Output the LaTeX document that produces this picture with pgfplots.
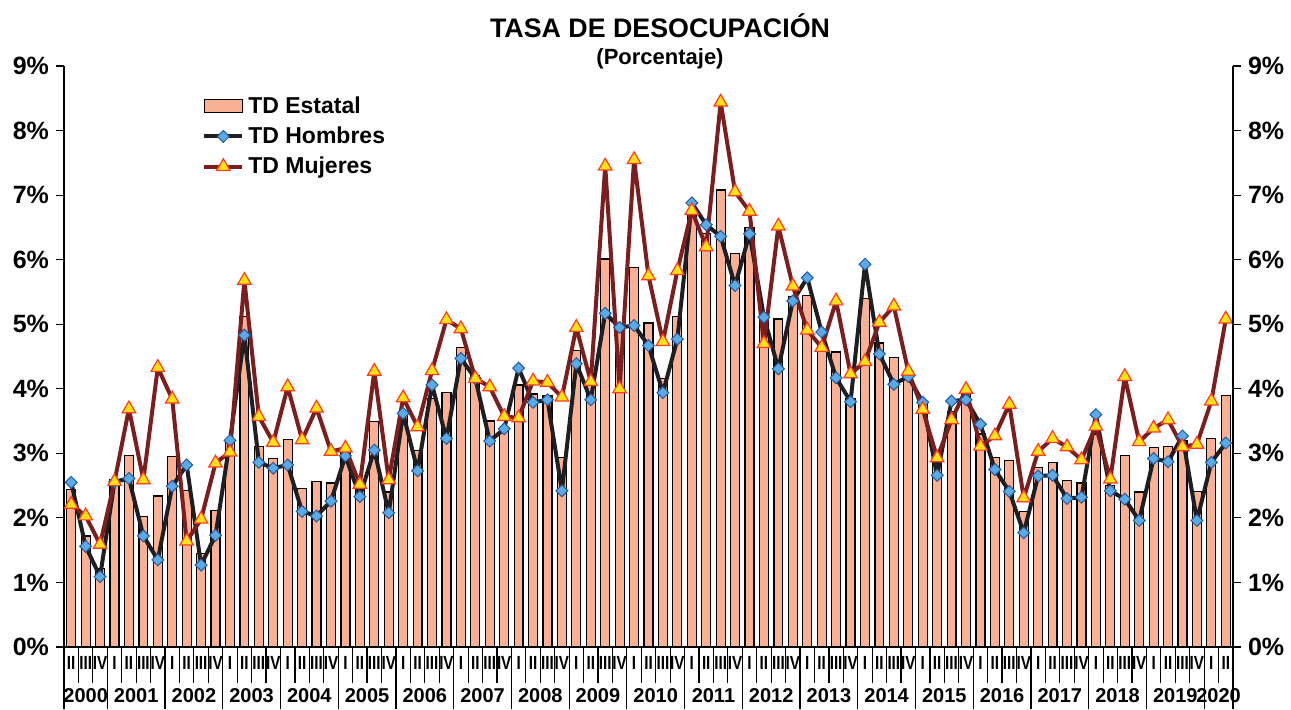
\documentclass[border=0pt]{standalone}
\usepackage{pgfplots}
\pgfplotsset{compat=1.18}
\usepackage{pgfplotstable}
\usepackage{graphicx}
\usepackage{fontspec}
\setmainfont{Liberation Sans}

\definecolor{barfill}{RGB}{250,176,146}
\definecolor{hline}{RGB}{30,30,35}
\definecolor{hmark}{RGB}{90,170,230}
\definecolor{hedge}{RGB}{40,90,160}
\definecolor{mline}{RGB}{125,30,30}
\definecolor{mmark}{RGB}{255,225,20}
\definecolor{medge}{RGB}{255,60,30}

\newcommand\Q[1]{\scalebox{0.8}[1]{#1}}

\pgfplotstableread{
x est hom muj
0 2.44 2.55 2.21
1 1.72 1.56 2.03
2 1.22 1.09 1.59
3 2.59 2.56 2.56
4 2.97 2.61 3.69
5 2.02 1.72 2.59
6 2.34 1.35 4.33
7 2.95 2.49 3.84
8 2.42 2.82 1.64
9 1.45 1.27 1.98
10 2.11 1.73 2.85
11 3.20 3.20 3.02
12 5.12 4.83 5.68
13 3.10 2.86 3.57
14 2.92 2.77 3.17
15 3.21 2.82 4.03
16 2.45 2.10 3.21
17 2.57 2.03 3.70
18 2.54 2.26 3.03
19 3.05 2.96 3.08
20 2.50 2.33 2.52
21 3.49 3.05 4.27
22 2.40 2.08 2.59
23 3.65 3.62 3.86
24 3.05 2.73 3.41
25 3.85 4.06 4.28
26 3.94 3.23 5.07
27 4.64 4.47 4.93
28 4.20 4.16 4.16
29 3.50 3.19 4.03
30 3.38 3.38 3.57
31 4.06 4.32 3.55
32 3.92 3.79 4.12
33 3.90 3.83 4.10
34 2.94 2.42 3.87
35 4.59 4.39 4.95
36 4.10 3.83 4.11
37 6.01 5.17 7.45
38 4.98 4.95 4.00
39 5.88 4.98 7.55
40 5.02 4.67 5.75
41 4.16 3.94 4.73
42 5.12 4.77 5.83
43 6.75 6.88 6.76
44 6.40 6.54 6.20
45 7.08 6.36 8.44
46 6.09 5.60 7.05
47 6.50 6.40 6.75
48 5.10 5.11 4.70
49 5.08 4.31 6.52
50 5.43 5.36 5.59
51 5.45 5.72 4.91
52 4.72 4.88 4.64
53 4.57 4.17 5.36
54 3.85 3.80 4.23
55 5.40 5.93 4.42
56 4.71 4.54 5.03
57 4.49 4.07 5.28
58 4.16 4.19 4.27
59 3.77 3.79 3.68
60 2.85 2.66 2.93
61 3.65 3.81 3.52
62 3.93 3.83 3.99
63 3.30 3.45 3.11
64 2.93 2.75 3.27
65 2.89 2.41 3.76
66 2.10 1.77 2.31
67 2.78 2.65 3.03
68 2.86 2.66 3.23
69 2.58 2.30 3.10
70 2.54 2.32 2.90
71 3.30 3.60 3.42
72 2.50 2.42 2.60
73 2.97 2.29 4.19
74 2.40 1.96 3.18
75 3.09 2.92 3.39
76 3.11 2.87 3.52
77 3.20 3.27 3.10
78 2.41 1.96 3.14
79 3.23 2.86 3.81
80 3.89 3.16 5.08
}\datatable

\begin{document}
\begin{tikzpicture}
\useasboundingbox (0,0) rectangle (645.5pt,354.5pt);
\node[anchor=base, font=\bfseries\fontsize{13.4}{15}\selectfont] at (330pt,335.5pt) {TASA DE DESOCUPACIÓN};
\node[anchor=base, font=\bfseries\fontsize{11}{13}\selectfont] at (330pt,322.5pt) {(Porcentaje)};

\begin{axis}[
  at={(32pt,31pt)}, anchor=south west, scale only axis,
  width=584.5pt, height=290.5pt,
  xmin=-0.5, xmax=80.5, ymin=0, ymax=9,
  axis x line*=bottom, axis y line*=left,
  axis line style={line width=0.6pt, -},
  tick align=outside,
  major tick length=4pt,
  ytick={0,1,...,9},
  yticklabels={0\%,1\%,2\%,3\%,4\%,5\%,6\%,7\%,8\%,9\%},
  y tick label style={font=\bfseries\fontsize{12.5}{13}\selectfont},
  y tick style={line width=0.6pt, black},
  xtick={0,1,...,80},
  major x tick style={draw=none},
  minor xtick={-0.5,0.5,...,80.5},
  minor tick length=18pt,
  minor x tick style={line width=0.6pt, black},
  xticklabels={\Q{II},\Q{III},\Q{IV},
  \Q{I},\Q{II},\Q{III},\Q{IV},\Q{I},\Q{II},\Q{III},\Q{IV},\Q{I},\Q{II},\Q{III},\Q{IV},\Q{I},\Q{II},\Q{III},\Q{IV},
  \Q{I},\Q{II},\Q{III},\Q{IV},\Q{I},\Q{II},\Q{III},\Q{IV},\Q{I},\Q{II},\Q{III},\Q{IV},\Q{I},\Q{II},\Q{III},\Q{IV},
  \Q{I},\Q{II},\Q{III},\Q{IV},\Q{I},\Q{II},\Q{III},\Q{IV},\Q{I},\Q{II},\Q{III},\Q{IV},\Q{I},\Q{II},\Q{III},\Q{IV},
  \Q{I},\Q{II},\Q{III},\Q{IV},\Q{I},\Q{II},\Q{III},\Q{IV},\Q{I},\Q{II},\Q{III},\Q{IV},\Q{I},\Q{II},\Q{III},\Q{IV},
  \Q{I},\Q{II},\Q{III},\Q{IV},\Q{I},\Q{II},\Q{III},\Q{IV},\Q{I},\Q{II},\Q{III},\Q{IV},
  \Q{I},\Q{II}},
  x tick label style={font=\bfseries\fontsize{9.5}{10}\selectfont, anchor=north, yshift=3pt},
  legend style={at={(0.118,0.955)}, anchor=north west, draw=none, fill=none,
     font=\bfseries\fontsize{11.5}{12}\selectfont, row sep=1.2pt, inner sep=0pt},
  legend cell align=left,
  legend image code/.code={\draw[mark repeat=2,mark phase=2,#1] plot coordinates {(0pt,0pt)(9.5pt,0pt)(19pt,0pt)};},
]
\addplot[ybar, bar width=0.62, fill=barfill, draw=black, line width=0.6pt,
   legend image code/.code={\draw[fill=barfill, draw=black, line width=0.7pt] (0pt,-3pt) rectangle (19pt,3.5pt);}]
   table[x=x, y=est] {\datatable};
\addlegendentry{TD Estatal}
\addplot[color=hline, line width=2pt, line join=round, mark=square*, mark size=2.1pt,
   mark options={rotate=45, fill=hmark, draw=hedge, line width=0.5pt, line join=miter}]
   table[x=x, y=hom] {\datatable};
\addlegendentry{TD Hombres}
\addplot[color=mline, line width=2pt, line join=round, mark=triangle*, mark size=3.9pt,
   mark options={fill=mmark, draw=medge, line width=0.6pt, line join=miter}]
   table[x=x, y=muj] {\datatable};
\addlegendentry{TD Mujeres}
\end{axis}

\begin{axis}[
  at={(32pt,31pt)}, anchor=south west, scale only axis,
  width=584.5pt, height=290.5pt,
  xmin=-0.5, xmax=80.5, ymin=0, ymax=9,
  axis x line*=bottom, axis y line*=right,
  axis line style={line width=0.6pt, -},
  tick align=outside,
  major tick length=4pt,
  ytick={0,1,...,9},
  yticklabels={0\%,1\%,2\%,3\%,4\%,5\%,6\%,7\%,8\%,9\%},
  y tick label style={font=\bfseries\fontsize{12.5}{13}\selectfont},
  y tick style={line width=0.6pt, black},
  xtick={1,4.5,8.5,12.5,16.5,20.5,24.5,28.5,32.5,36.5,40.5,44.5,48.5,52.5,56.5,60.5,64.5,68.5,72.5,76.5,79.5},
  xticklabels={2000,2001,2002,2003,2004,2005,2006,2007,2008,2009,2010,2011,2012,2013,2014,2015,2016,2017,2018,2019,2020},
  major x tick style={draw=none},
  minor xtick={-0.5,2.5,6.5,10.5,14.5,18.5,22.5,26.5,30.5,34.5,38.5,42.5,46.5,50.5,54.5,58.5,62.5,66.5,70.5,74.5,78.5,80.5},
  minor tick length=31pt,
  minor x tick style={line width=0.6pt, black},
  x tick label style={font=\bfseries\fontsize{10}{11}\selectfont, anchor=north, yshift=-13pt},
]
\end{axis}
\end{tikzpicture}
\end{document}
